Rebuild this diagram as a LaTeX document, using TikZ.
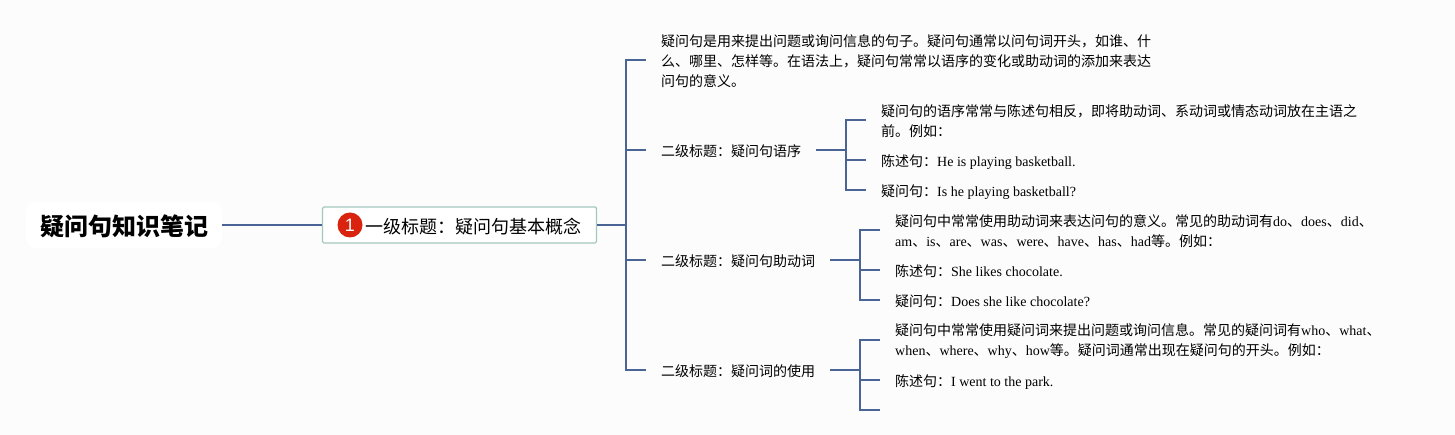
\documentclass[tikz,border=0pt]{standalone}
\usepackage{fontspec}
\setmainfont{Liberation Serif}
\newfontfamily\cjk{Noto Sans CJK SC}
\newfontfamily\labelsans{Liberation Sans}
\newcommand{\zh}[1]{{\cjk #1}}
\definecolor{pagebg}{HTML}{FCFCFD}
\definecolor{linkblue}{HTML}{4A6496}
\definecolor{boxgreen}{HTML}{A3C9BD}
\definecolor{badgered}{HTML}{D9230F}
\tikzset{
  link/.style={draw=linkblue,line width=2pt},
  rootbox/.style={fill=white,rounded corners=10pt,minimum width=196pt,minimum height=46pt,inner sep=0pt,text=black,font=\fontsize{24}{28}\selectfont\cjk\bfseries},
  topicbox/.style={fill=white,draw=boxgreen,line width=1.4pt,rounded corners=1.5pt,minimum width=274pt,minimum height=36pt,inner sep=0pt},
  topictext/.style={inner sep=0pt,text=black,font=\fontsize{18}{22}\selectfont\cjk},
  badge/.style={circle,fill=badgered,minimum size=25pt,inner sep=0pt,text=white,font=\fontsize{18}{18}\selectfont\labelsans},
  leaf/.style={anchor=west,align=left,inner xsep=15pt,inner ysep=0pt,text=black,font=\fontsize{14}{20}\selectfont},
  up/.style={yshift=1pt},
  upa/.style={yshift=1.5pt},
  upb/.style={yshift=2.2pt},
}
\begin{document}
\begin{tikzpicture}[x=1pt,y=-1pt]
\useasboundingbox (0,0) rectangle (1455,435);
\fill[pagebg] (0,0) rectangle (1455,435);
% nodes
\node[rootbox] (root) at (124,225) {\raisebox{-11pt}[0pt][0pt]{疑问句知识笔记}};
\node[topicbox] (topic) at (459.5,225) {};
\node[badge] (num) at (350,225) {1};
\node[topictext,anchor=west] (topictxt) at (365,227) {一级标题：疑问句基本概念};
\coordinate (trunk) at (626,225);
\node[leaf] (intro) at (646,61) {\zh{疑问句是用来提出问题或询问信息的句子。疑问句通常以问句词开头，如谁、什}\\\zh{么、哪里、怎样等。在语法上，疑问句常常以语序的变化或助动词的添加来表达}\\\zh{问句的意义。}};
\node[leaf] (h1) at (646,151) {\zh{二级标题：疑问句语序}};
\node[leaf] (h2) at (646,261) {\zh{二级标题：疑问句助动词}};
\node[leaf] (h3) at (646,371) {\zh{二级标题：疑问词的使用}};
\coordinate (t1) at (846,150);
\coordinate (t2) at (860,260);
\coordinate (t3) at (860,370);
\node[leaf] (a1) at (866,121) {\zh{疑问句的语序常常与陈述句相反，即将助动词、系动词或情态动词放在主语之}\\\zh{前。例如：}};
\node[leaf] (a2) at (866,162.2) {\zh{陈述句：}He is playing basketball.};
\node[leaf] (a3) at (866,192.2) {\zh{疑问句：}Is he playing basketball?};
\node[leaf] (b1) at (880,231) {\zh{疑问句中常常使用助动词来表达问句的意义。常见的助动词有}do\zh{、}does\zh{、}did\zh{、}\\am\zh{、}is\zh{、}are\zh{、}was\zh{、}were\zh{、}have\zh{、}has\zh{、}had\zh{等。例如：}};
\node[leaf] (b2) at (880,271.5) {\zh{陈述句：}She likes chocolate.};
\node[leaf] (b3) at (880,301.5) {\zh{疑问句：}Does she like chocolate?};
\node[leaf] (c1) at (880,341) {\zh{疑问句中常常使用疑问词来提出问题或询问信息。常见的疑问词有}who\zh{、}what\zh{、}\\when\zh{、}where\zh{、}why\zh{、}how\zh{等。疑问词通常出现在疑问句的开头。例如：}};
\node[leaf] (c2) at (880,382.2) {\zh{陈述句：}I went to the park.};
\coordinate (c3) at (880,410);
% connectors
\draw[link] (root.east) -- (topic.west);
\draw[link] (topic.east) -- (trunk);
\draw[link] (trunk) |- ([up]intro.west);
\draw[link] (trunk) |- ([up]h1.west);
\draw[link] (trunk) |- ([up]h2.west);
\draw[link] (trunk) |- ([up]h3.west);
\draw[link] ([up]h1.east) -- (t1);
\draw[link] ([up]h2.east) -- (t2);
\draw[link] ([up]h3.east) -- (t3);
\draw[link] (t1) |- ([up]a1.west);
\draw[link] (t1) |- ([upb]a2.west);
\draw[link] (t1) |- ([upb]a3.west);
\draw[link] (t2) |- ([up]b1.west);
\draw[link] (t2) |- ([upa]b2.west);
\draw[link] (t2) |- ([upa]b3.west);
\draw[link] (t3) |- ([up]c1.west);
\draw[link] (t3) |- ([upb]c2.west);
\draw[link] (t3) |- (c3);
\end{tikzpicture}
\end{document}
